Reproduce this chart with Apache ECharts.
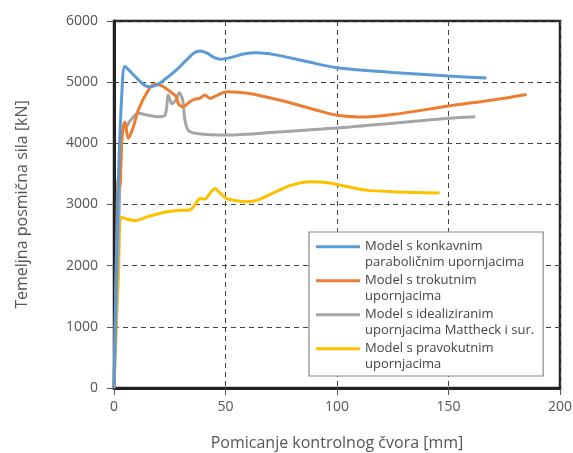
<!DOCTYPE html>
<html>
<head>
<meta charset="utf-8">
<script src="https://cdn.jsdelivr.net/npm/echarts@6/dist/echarts.min.js"></script>
<style>
html,body{margin:0;padding:0;background:#fff;}
#chart{width:573px;height:453px;}
</style>
</head>
<body>
<div id="chart"></div>
<script>
var seriesNames = [
  'Model s konkavnim\nparaboličnim upornjacima',
  'Model s trokutnim\nupornjacima',
  'Model s idealiziranim\nupornjacima Mattheck i sur.',
  'Model s pravokutnim\nupornjacima'
];
var xTicks = [0, 50, 100, 150, 200];
var yTicks = [0, 1000, 2000, 3000, 4000, 5000, 6000];

var blueData = [
  [0,0],[1,1800],[2,3450],[3.5,4800],[4.9,5255],[8,5150],[12,5000],[15.4,4925],[19,4950],
  [24,5080],[28,5200],[33,5380],[36,5480],[38.6,5510],[42,5470],[45,5400],[48,5375],
  [52,5400],[58,5460],[64,5480],[72,5450],[85,5350],[100,5235],[125,5160],[150,5100],[167,5067]
];
var orangeData = [
  [0,0],[1.2,2400],[1.9,3430],[2.6,3300],[3.6,4100],[4.9,4350],[6.4,4080],[8.5,4250],
  [10.9,4545],[15.4,4870],[18.4,4970],[21.5,4940],[24.4,4870],[28,4760],[28.8,4650],[31,4600],
  [34,4680],[36,4720],[38.6,4740],[40.8,4790],[43,4735],[46,4780],[50.5,4845],[60,4820],
  [75,4700],[90,4550],[100,4460],[113,4430],[125,4470],[150,4610],[170,4710],[185,4800]
];
var grayData = [
  [0,0],[2,2500],[3.2,3900],[4.2,4300],[4.9,4250],[7.5,4380],[10.9,4490],[15.4,4460],
  [19.9,4435],[22.9,4460],[24.4,4790],[25.9,4650],[27.5,4700],[29.3,4825],[30.8,4705],
  [31.8,4380],[33.3,4215],[37.1,4160],[50.5,4135],[75,4190],[100,4250],[125,4330],[150,4410],[162,4435]
];
var yellowData = [
  [0,0],[1.9,1765],[3.4,2790],[6,2760],[9.4,2735],[15,2800],[23.6,2880],[30,2905],[34,2910],
  [36,2980],[38.6,3100],[40.8,3090],[43,3180],[45.3,3260],[47.5,3190],[50.5,3100],[55,3060],
  [59.5,3045],[65,3080],[72,3200],[80,3320],[88,3370],[95,3360],[101,3320],[113,3235],
  [125,3210],[146,3190]
];
var seriesData = [blueData, orangeData, grayData, yellowData];
var colors = ['#5B9BD5', '#ED7D31', '#A5A5A5', '#FFC000'];

var FONT = 'Open Sans';
var chart = echarts.init(document.getElementById('chart'), null, {renderer: 'canvas'});
var option = {
  animation: false,
  backgroundColor: '#fff',
  color: colors,
  grid: {
    left: 114, right: 13, top: 21, bottom: 65,
    outerBoundsMode: 'none', containLabel: false,
    show: true, borderColor: '#222', borderWidth: 2.5, backgroundColor: 'transparent'
  },
  legend: {
    orient: 'vertical',
    left: 309, top: 232,
    padding: [7, 9, 4, 7],
    itemGap: 3,
    itemWidth: 44, itemHeight: 31,
    icon: 'path://M0,0h0.01v0.01h-0.01z M0,6.3h44v3h-44z M0,30.99h0.01v0.01h-0.01z',
    backgroundColor: '#fff',
    borderColor: '#888', borderWidth: 1.2, borderRadius: 0,
    textStyle: {fontFamily: FONT, fontSize: 13, lineHeight: 15.5, color: '#444'},
    data: seriesNames
  },
  xAxis: {
    type: 'value', min: xTicks[0], max: xTicks[xTicks.length - 1], interval: 50,
    name: 'Pomicanje kontrolnog čvora [mm]', nameLocation: 'middle', nameGap: 47,
    nameTextStyle: {fontFamily: FONT, fontSize: 16, color: '#555'},
    axisLine: {show: true, onZero: false, lineStyle: {color: '#222', width: 3}},
    axisTick: {show: true, inside: false, length: 7, lineStyle: {color: '#555', width: 1}},
    axisLabel: {fontFamily: FONT, fontSize: 14, color: '#555', margin: 12,
      formatter: function (v) { return String(v); }},
    splitLine: {show: true, lineStyle: {color: '#444', width: 1, type: [5, 4]}}
  },
  yAxis: {
    type: 'value', min: yTicks[0], max: yTicks[yTicks.length - 1], interval: 1000,
    name: 'Temeljna posmična sila [kN]', nameLocation: 'middle', nameGap: 84,
    nameTextStyle: {fontFamily: FONT, fontSize: 16, color: '#555'},
    axisLine: {show: true, onZero: false, lineStyle: {color: '#222', width: 3}},
    axisTick: {show: true, inside: false, length: 7, lineStyle: {color: '#555', width: 1}},
    axisLabel: {fontFamily: FONT, fontSize: 14, color: '#555', margin: 16,
      formatter: function (v) { return String(v); }},
    splitLine: {show: true, lineStyle: {color: '#444', width: 1, type: [5, 4]}}
  },
  series: seriesNames.map(function (n, i) {
    return {
      name: n, type: 'line', data: seriesData[i], showSymbol: false, symbol: 'none',
      smooth: 0.3,
      lineStyle: {color: colors[i], width: 3}, itemStyle: {color: colors[i]},
      z: 10 - i
    };
  })
};
chart.setOption(option);
</script>
</body>
</html>
